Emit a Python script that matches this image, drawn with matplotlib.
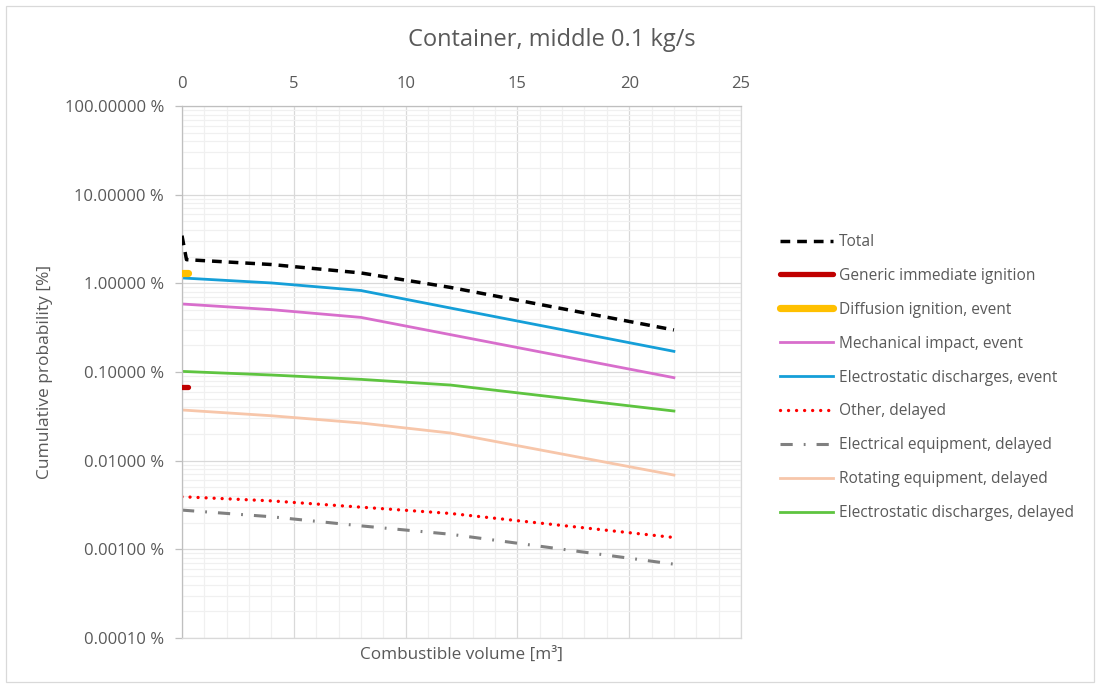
import matplotlib
matplotlib.use("Agg")
import matplotlib.pyplot as plt
from matplotlib.ticker import MultipleLocator, LogLocator, FuncFormatter, NullFormatter, FixedLocator
from matplotlib.patches import Rectangle

plt.rcParams['font.family'] = ['Open Sans', 'DejaVu Sans']

TEXT = '#595959'

# Combustible volume [m3] and cumulative probability [%] per ignition source
x_immediate = [0.0, 0.25]
generic_immediate = [0.0682, 0.0682]
diffusion_event = [1.31, 1.31]

x_total = [0.0, 0.2, 4.0, 8.0, 12.0, 22.0]
total = [3.45, 1.85, 1.63, 1.31, 0.90, 0.298]

x_vol = [0.0, 4.0, 8.0, 12.0, 22.0]
mechanical_event = [0.585, 0.505, 0.413, 0.264, 0.0863]
electrostatic_event = [1.15, 1.01, 0.83, 0.527, 0.171]
other_delayed = [0.00392, 0.00352, 0.00299, 0.00254, 0.00136]
electrical_delayed = [0.00277, 0.00233, 0.00184, 0.00148, 0.00068]
rotating_delayed = [0.0373, 0.0321, 0.0266, 0.0205, 0.00688]
electrostatic_delayed = [0.1016, 0.0925, 0.0826, 0.0713, 0.0363]

x_ticks = [0, 5, 10, 15, 20, 25]
y_ticks = [0.0001, 0.001, 0.01, 0.1, 1, 10, 100]

W, H = 1098, 689
fig = plt.figure(figsize=(W / 100, H / 100), dpi=100)
fig.patch.set_facecolor('white')

# chart-area frame
fig.add_artist(Rectangle((6 / W, 7 / H), 1088 / W, 676 / H, transform=fig.transFigure,
                         fill=False, edgecolor='#D9D9D9', lw=0.9))

ax = fig.add_axes([182 / W, (H - 638) / H, 559 / W, 532 / H])
ax.set_xlim(0, 25)
ax.set_yscale('log')
ax.set_ylim(0.0001, 100)

# grid
ax.xaxis.set_major_locator(FixedLocator(x_ticks))
ax.xaxis.set_minor_locator(MultipleLocator(1))
ax.yaxis.set_major_locator(FixedLocator(y_ticks))
ax.yaxis.set_minor_locator(LogLocator(base=10, subs=range(2, 10), numticks=20))
ax.yaxis.set_minor_formatter(NullFormatter())
ax.yaxis.set_major_formatter(FuncFormatter(lambda v, p: f"{v:.5f} %"))
ax.grid(which='minor', color='#F0F0F0', lw=0.9)
ax.grid(which='major', color='#D9D9D9', lw=0.9)
ax.set_axisbelow(True)

ax.xaxis.tick_top()
ax.tick_params(axis='x', which='both', length=0, pad=10, labelsize=12, labelcolor=TEXT)
ax.tick_params(axis='y', which='major', length=5, color='#BFBFBF', width=0.9, pad=8,
               labelsize=12, labelcolor=TEXT)
ax.tick_params(axis='y', which='minor', length=0)

for side in ('top', 'left'):
    ax.spines[side].set_color('#BFBFBF')
    ax.spines[side].set_linewidth(0.9)
for side in ('bottom', 'right'):
    ax.spines[side].set_color('#D9D9D9')
    ax.spines[side].set_linewidth(0.9)

# series
ax.plot(x_total, total, color='black', lw=2.5, ls=(0, (2.8, 2.0)), dash_capstyle='butt',
        label='Total', zorder=5)
ax.plot(x_immediate, generic_immediate, color='#C00000', lw=3.8, solid_capstyle='round',
        label='Generic immediate ignition', zorder=4)
ax.plot(x_immediate, diffusion_event, color='#FFC000', lw=5.2, solid_capstyle='round',
        label='Diffusion ignition, event', zorder=4)
ax.plot(x_vol, mechanical_event, color='#D86ECC', lw=2.0, label='Mechanical impact, event')
ax.plot(x_vol, electrostatic_event, color='#159FD8', lw=2.0, label='Electrostatic discharges, event')
ax.plot(x_vol, other_delayed, color='#FF0000', lw=2.4, ls=(0, (0.01, 2.4)), dash_capstyle='round',
        label='Other, delayed')
ax.plot(x_vol, electrical_delayed, color='#808080', lw=2.2, ls=(0, (4.0, 3.6, 0.6, 3.6)),
        label='Electrical equipment, delayed')
ax.plot(x_vol, rotating_delayed, color='#F7C6AA', lw=2.0, label='Rotating equipment, delayed')
ax.plot(x_vol, electrostatic_delayed, color='#5EC440', lw=2.0, label='Electrostatic discharges, delayed')

# titles
fig.text(552 / W, 1 - 40 / H, 'Container, middle 0.1 kg/s', ha='center', va='center',
         fontsize=17, color=TEXT)
fig.text(462 / W, 1 - 655 / H, 'Combustible volume [m³]', ha='center', va='center',
         fontsize=12.3, color=TEXT)
fig.text(45 / W, 1 - 372 / H, 'Cumulative probability [%]', ha='center', va='center',
         rotation=90, fontsize=12.5, color=TEXT)

leg = fig.legend(loc='upper left', bbox_to_anchor=(780 / W, 1 - 234 / H), frameon=False,
                 fontsize=11.2, handlelength=3.4, handletextpad=0.4, labelspacing=1.15,
                 borderaxespad=0, borderpad=0)
for t in leg.get_texts():
    t.set_color(TEXT)

fig.savefig('out.png', dpi=100, facecolor='white')
